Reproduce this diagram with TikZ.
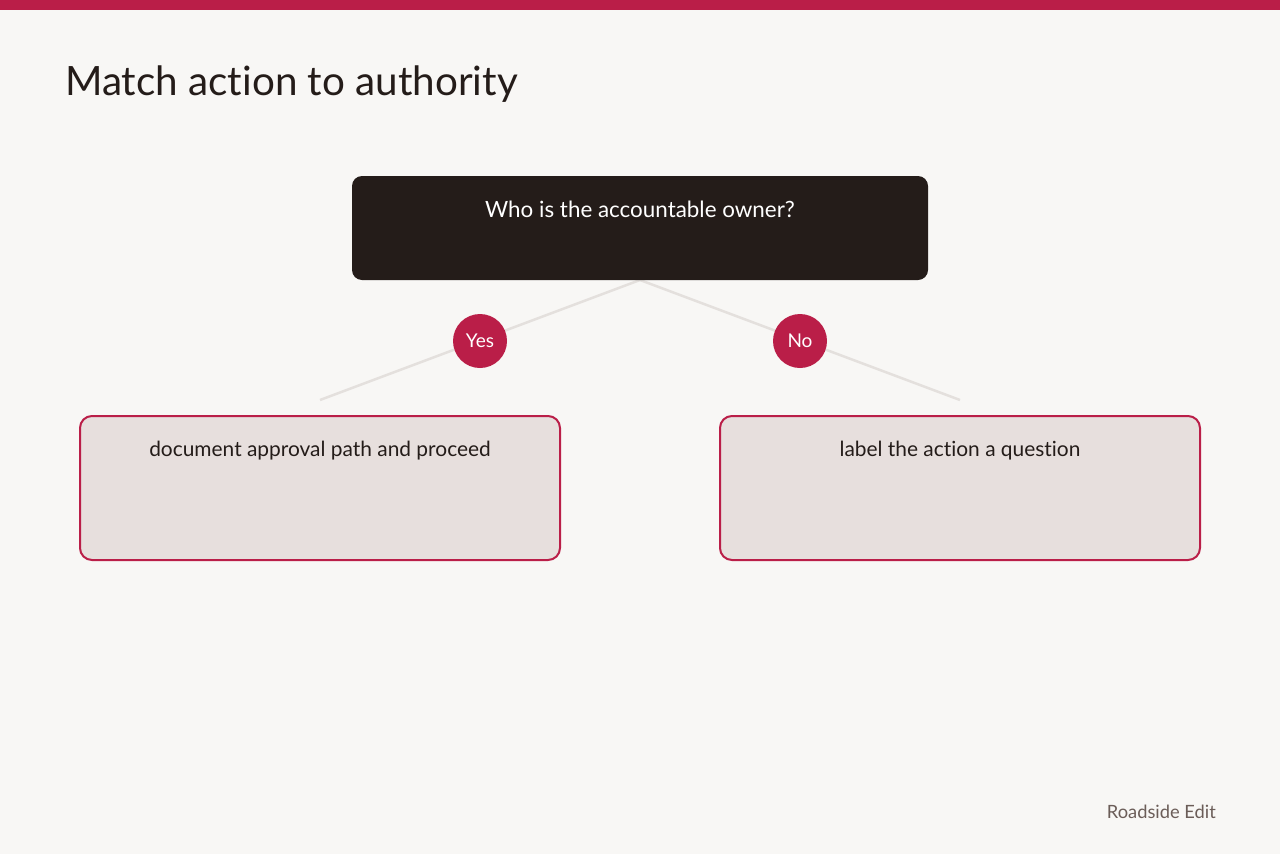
\documentclass[tikz,border=0pt]{standalone}
\usepackage{fontspec}
\setmainfont{Lato}[Ligatures={NoCommon}]
\definecolor{bg}{HTML}{F8F7F5}
\definecolor{crimson}{HTML}{BA1E48}
\definecolor{ink}{HTML}{241C19}
\definecolor{boxfill}{HTML}{E7DFDD}
\definecolor{linec}{HTML}{E4E0DD}
\definecolor{footc}{HTML}{6B5D58}
\begin{document}
\begin{tikzpicture}[x=1pt,y=-1pt,
  question/.style={fill=ink,rounded corners=10pt},
  answer/.style={fill=boxfill,draw=crimson,line width=2pt,rounded corners=12pt},
  badge/.style={circle,fill=crimson,minimum size=54pt,inner sep=0pt,text=white,font=\fontsize{19}{22}\selectfont},
  branch/.style={draw=linec,line width=2.5pt},
  boxtext/.style={anchor=base,font=\fontsize{20.9}{25}\selectfont}]
\useasboundingbox (0,0) rectangle (1280,854);
\fill[bg] (0,0) rectangle (1280,854);
\fill[crimson] (0,0) rectangle (1280,10);
\node[anchor=base west,inner sep=0pt,text=ink,font=\fontsize{40.4}{48}\selectfont] (title) at (65,95) {Match action to authority};
% connectors
\coordinate (qb) at (640,280);
\coordinate (lend) at (320,400);
\coordinate (rend) at (960,400);
\draw[branch] (qb) -- (lend);
\draw[branch] (qb) -- (rend);
% question box
\fill[question] (352,176) rectangle (928,280);
\node[boxtext,text=white,inner sep=0pt,font=\fontsize{22.4}{26}\selectfont] (q) at (640,217) {Who is the accountable owner?};
% badges
\node[badge] (yes) at (480,341) {\raisebox{-1pt}{Yes}};
\node[badge] (no) at (800,341) {\raisebox{-1pt}{No}};
% answer boxes
\draw[answer] (80,416) rectangle (560,560);
\node[boxtext,text=ink,inner sep=0pt] (a1) at (320,456) {document approval path and proceed};
\draw[answer] (720,416) rectangle (1200,560);
\node[boxtext,text=ink,inner sep=0pt] (a2) at (960,456) {label the action a question};
% footer
\node[anchor=base east,inner sep=0pt,text=footc,font=\fontsize{18.3}{22}\selectfont] (foot) at (1216,818) {Roadside Edit};
\end{tikzpicture}
\end{document}
